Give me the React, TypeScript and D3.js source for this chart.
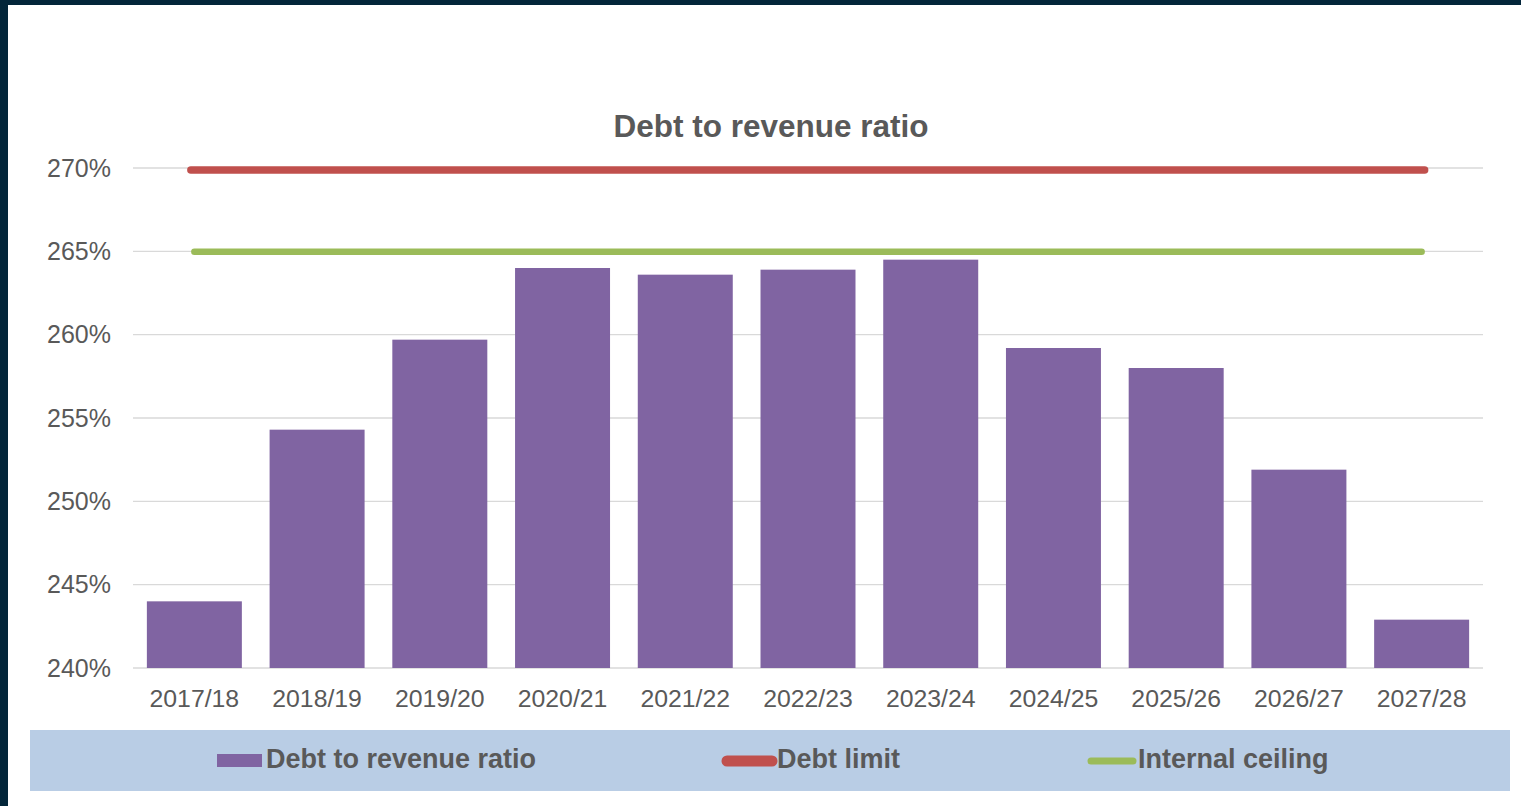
import { useEffect, useRef } from 'react';
import * as d3 from 'd3';

// chart data
const years = ['2017/18', '2018/19', '2019/20', '2020/21', '2021/22', '2022/23', '2023/24', '2024/25', '2025/26', '2026/27', '2027/28'];
const ratio = [244.0, 254.3, 259.7, 264.0, 263.6, 263.9, 264.5, 259.2, 258.0, 251.9, 242.9];
const debtLimit = 270;
const internalCeiling = 265;
const yTicks = [240, 245, 250, 255, 260, 265, 270];
const legendItems = ['Debt to revenue ratio', 'Debt limit', 'Internal ceiling'];

const width = 1521;
const height = 806;
const textColor = '#595959';
const purple = '#8064A2';
const red = '#C0504D';
const green = '#9BBB59';
const font = '"Liberation Sans", Arial, sans-serif';

const App = () => {
  const ref = useRef<SVGSVGElement>(null);

  useEffect(() => {
    const svg = d3.select(ref.current);
    svg.selectAll('*').remove();

    // frame
    svg.append('rect').attr('width', width).attr('height', height).attr('fill', '#03263A');
    svg.append('rect').attr('x', 8).attr('y', 5).attr('width', width - 8).attr('height', height - 5).attr('fill', '#ffffff');

    const x = d3.scaleBand<string>()
      .domain(years)
      .range([133, 1483])
      .paddingInner(0.226)
      .paddingOuter(0.113);

    const y = d3.scaleLinear()
      .domain([240, 270])
      .range([668, 168]);

    // gridlines
    svg.append('g')
      .selectAll('line')
      .data(yTicks)
      .enter()
      .append('line')
      .attr('x1', 133)
      .attr('x2', 1483)
      .attr('y1', (d) => y(d))
      .attr('y2', (d) => y(d))
      .attr('stroke', '#D9D9D9')
      .attr('stroke-width', 1.3);

    // y labels
    svg.append('g')
      .selectAll('text')
      .data(yTicks)
      .enter()
      .append('text')
      .attr('x', 111)
      .attr('y', (d) => y(d))
      .attr('dy', '0.35em')
      .attr('text-anchor', 'end')
      .attr('font-family', font)
      .attr('font-size', 25)
      .attr('fill', textColor)
      .text((d) => d + '%');

    // bars
    svg.append('g')
      .selectAll('rect')
      .data(ratio)
      .enter()
      .append('rect')
      .attr('x', (d, i) => x(years[i]) as number)
      .attr('y', (d) => y(d))
      .attr('width', x.bandwidth())
      .attr('height', (d) => y(240) - y(d))
      .attr('fill', purple);

    // x labels
    svg.append('g')
      .selectAll('text')
      .data(years)
      .enter()
      .append('text')
      .attr('x', (d) => (x(d) as number) + x.bandwidth() / 2)
      .attr('y', 698)
      .attr('dy', '0.35em')
      .attr('text-anchor', 'middle')
      .attr('font-family', font)
      .attr('font-size', 24.8)
      .attr('fill', textColor)
      .text((d) => d);

    // reference lines
    const cx0 = (x(years[0]) as number) + x.bandwidth() / 2;
    const cx1 = (x(years[years.length - 1]) as number) + x.bandwidth() / 2;
    svg.append('line')
      .attr('x1', cx0 - 3.5).attr('x2', cx1 + 3)
      .attr('y1', y(debtLimit) + 2).attr('y2', y(debtLimit) + 2)
      .attr('stroke', red).attr('stroke-width', 7.5).attr('stroke-linecap', 'round');
    svg.append('line')
      .attr('x1', cx0).attr('x2', cx1)
      .attr('y1', y(internalCeiling) + 0.5).attr('y2', y(internalCeiling) + 0.5)
      .attr('stroke', green).attr('stroke-width', 6.5).attr('stroke-linecap', 'round');

    // title
    svg.append('text')
      .attr('x', 771)
      .attr('y', 137)
      .attr('text-anchor', 'middle')
      .attr('font-family', font)
      .attr('font-weight', 'bold')
      .attr('font-size', 31.5)
      .attr('fill', textColor)
      .text('Debt to revenue ratio');

    // legend
    svg.append('rect').attr('x', 30).attr('y', 730).attr('width', 1480).attr('height', 61).attr('fill', '#B9CDE5');
    const lg = svg.append('g');
    lg.append('rect').attr('x', 217).attr('y', 754).attr('width', 45).attr('height', 13).attr('fill', purple);
    lg.append('line').attr('x1', 727).attr('x2', 772).attr('y1', 761).attr('y2', 761)
      .attr('stroke', red).attr('stroke-width', 11).attr('stroke-linecap', 'round');
    lg.append('line').attr('x1', 1091).attr('x2', 1133).attr('y1', 761).attr('y2', 761)
      .attr('stroke', green).attr('stroke-width', 7).attr('stroke-linecap', 'round');
    const textX = [266, 777, 1138];
    lg.selectAll('text')
      .data(legendItems)
      .enter()
      .append('text')
      .attr('x', (d, i) => textX[i])
      .attr('y', 768)
      .attr('font-family', font)
      .attr('font-weight', 'bold')
      .attr('font-size', 27)
      .attr('fill', textColor)
      .text((d) => d);
  }, []);

  return (
    <svg
      ref={ref}
      width={width}
      height={height}
      style={{ position: 'absolute', left: 0, top: 0, display: 'block' }}
    />
  );
};

export default App;
